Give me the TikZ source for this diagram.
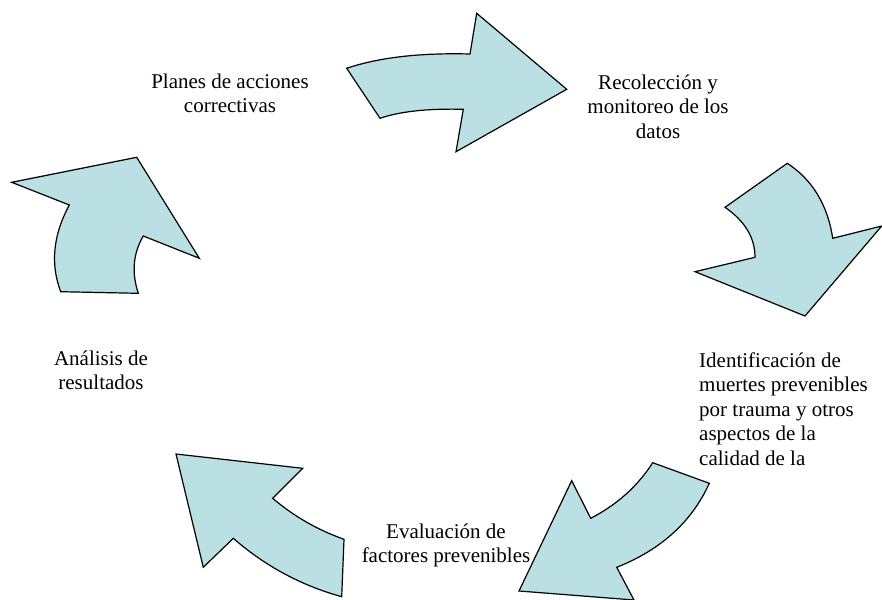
\documentclass[tikz,border=0pt]{standalone}
\usepackage{fontspec}
\setmainfont{Liberation Serif}
\definecolor{arrowfill}{RGB}{186,224,227}
\begin{document}
\begin{tikzpicture}[x=1pt,y=-1pt,
  cyclearrow/.style={draw=black,fill=arrowfill,line width=1.2pt,line join=miter},
  lbl/.style={inner sep=0pt,anchor=base,align=center,font=\fontsize{21}{24.5}\selectfont},
  lblleft/.style={lbl,align=left}]
\useasboundingbox (0,0) rectangle (882,599);
\begin{scope}
\clip (0,0) rectangle (882,599);
% top arrow
\draw[cyclearrow] (346.7,68.3) .. controls (378.9,57.4) and (420,52.7) .. (470,54) -- (476.7,13.3) -- (566.7,89.3)
  -- (456,151.7) -- (463.3,109.3) .. controls (427.8,108.4) and (400,111.4) .. (380,118.3) -- cycle;
% right arrow
\draw[cyclearrow] (787.3,163.3) .. controls (812.4,179.8) and (827.6,204.8) .. (832.7,238.3) -- (881.7,226) -- (805,316)
  -- (695,271.7) -- (755,257.3) .. controls (755,237.8) and (745,221.1) .. (725,207.3) -- cycle;
% bottom-right arrow
\draw[cyclearrow] (652.7,462.7) -- (709.3,483.3) .. controls (691.8,521.8) and (660.9,549.8) .. (616.7,567.3) -- (634,600)
  -- (519,591) -- (571.7,480.7) -- (590.7,518.3) .. controls (616.9,504.8) and (637.6,486.2) .. cycle;
% bottom-left arrow
\draw[cyclearrow] (176,454) -- (302.7,468.3) -- (272.7,498.3) .. controls (293.6,516.1) and (317.3,529.8) .. (344,539.3)
  -- (341.7,596.7) .. controls (301.2,585.5) and (265,566) .. (233.3,538.3) -- (203.3,567.3) -- cycle;
% left arrow
\draw[cyclearrow] (136.7,157.3) -- (199.3,258.3) -- (143.3,236) .. controls (133.1,253.3) and (131.4,272.4) .. (138.3,293.3)
  -- (60.7,291.7) .. controls (50.2,263.9) and (53.1,235) .. (69.3,205) -- (11.7,182.3) -- cycle;
\end{scope}
\node[lbl] (planes) at (230,112.8) {Planes de acciones\\correctivas};
\node[lbl] (recol) at (658,138.3) {Recolección y\\monitoreo de los\\datos};
\node[lblleft,anchor=base west] (ident) at (699,465) {Identificación de\\muertes prevenibles\\por trauma y otros\\aspectos de la\\calidad de la};
\node[lbl] (analisis) at (101,389.5) {Análisis de\\resultados};
\node[lbl] (evalua) at (446,562.8) {Evaluación de\\factores prevenibles};
\end{tikzpicture}
\end{document}
